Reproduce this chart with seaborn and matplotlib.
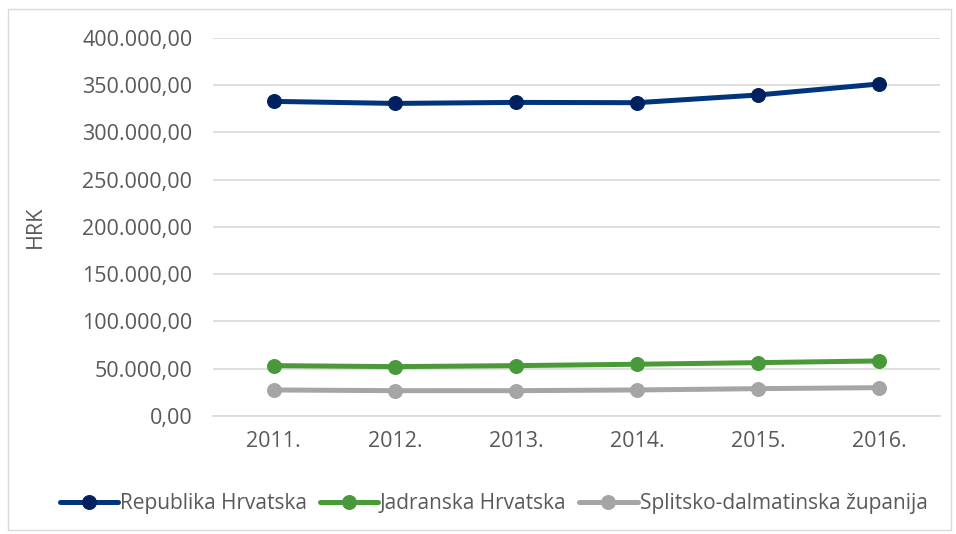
import matplotlib
matplotlib.use("Agg")
import matplotlib.pyplot as plt
from matplotlib.ticker import FuncFormatter, MultipleLocator
from matplotlib.patches import Rectangle
import seaborn as sns
import pandas as pd

# podaci (HRK)
godine = ["2011.", "2012.", "2013.", "2014.", "2015.", "2016."]
republika = [332850, 330700, 331780, 331460, 339620, 351270]
jadranska = [53270, 52210, 53270, 54750, 56440, 58240]
splitsko = [27530, 26790, 26790, 27530, 28910, 29970]

serije = ["Republika Hrvatska", "Jadranska Hrvatska", "Splitsko-dalmatinska županija"]
boje_linija = ["#00347D", "#4A9B38", "#A5A5A5"]
boje_markera = ["#002060", "#47993A", "#A5A5A5"]

df = pd.DataFrame({
    "godina": godine * 3,
    "HRK": republika + jadranska + splitsko,
    "serija": [s for s in serije for _ in godine],
})

sns.set_theme(style="white")
plt.rcParams["font.family"] = ["Open Sans", "DejaVu Sans"]

fig = plt.figure(figsize=(9.56, 5.34), dpi=100)
ax = fig.add_axes([0.223, 0.221, 0.76, 0.708])

for s, lc, mc in zip(serije, boje_linija, boje_markera):
    sns.lineplot(data=df[df["serija"] == s], x="godina", y="HRK", ax=ax,
                 color=lc, linewidth=3.6, marker="o", markersize=10,
                 markerfacecolor=mc, markeredgecolor=mc, label=s)

def hr_format(v, pos):
    t = f"{v:,.2f}"
    return t.replace(",", "X").replace(".", ",").replace("X", ".")

ax.set_ylim(0, 400000)
ax.set_xlim(-0.5, 5.5)
ax.yaxis.set_major_locator(MultipleLocator(50000))
ax.yaxis.set_major_formatter(FuncFormatter(hr_format))
ax.grid(axis="y", color="#D9D9D9", linewidth=1.2)
ax.set_axisbelow(True)
for sp in ["top", "right", "left"]:
    ax.spines[sp].set_visible(False)
ax.spines["bottom"].set_color("#D9D9D9")
ax.spines["bottom"].set_linewidth(1.2)

ax.tick_params(axis="y", length=0, pad=15, labelsize=15.5, labelcolor="#595959")
ax.tick_params(axis="x", length=0, pad=11, labelsize=15.5, labelcolor="#595959")
ax.set_xlabel("")
ax.set_ylabel("HRK", fontsize=15.5, color="#595959", labelpad=26)

ax.legend(loc="upper center", bbox_to_anchor=(0.386, -0.155), ncol=3,
          frameon=False, fontsize=15, handlelength=2.8, handletextpad=0.1,
          columnspacing=0.6, labelcolor="#595959", bbox_transform=ax.transAxes)

fig.patches.append(Rectangle((8 / 956, 4 / 534), 943 / 956, 521 / 534,
                             transform=fig.transFigure, fill=False,
                             edgecolor="#D9D9D9", linewidth=1))

fig.savefig("out.png", dpi=100)
